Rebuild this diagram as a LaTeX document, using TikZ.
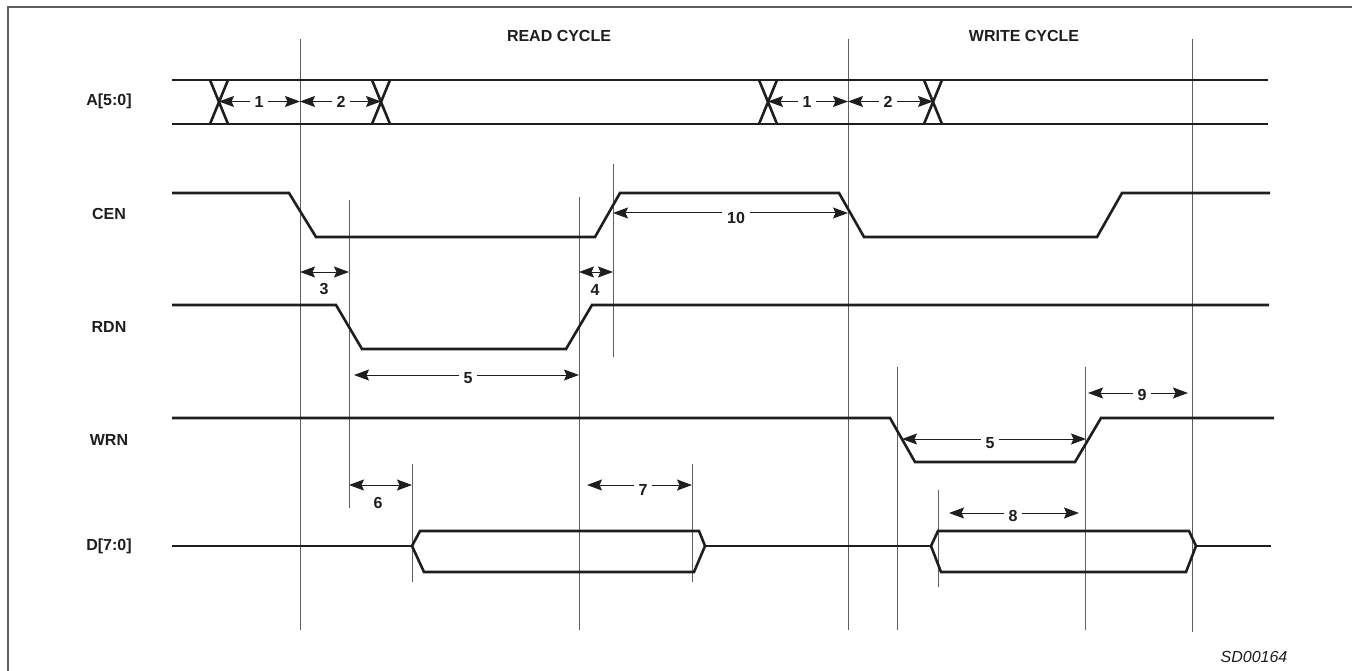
\documentclass[tikz,border=0pt]{standalone}
\usepackage{fontspec}
\setmainfont{Liberation Sans}
\usetikzlibrary{arrows.meta}
\definecolor{ink}{RGB}{30,30,30}
\definecolor{rule}{RGB}{95,95,95}
\newcommand{\lab}{\fontsize{16}{18}\selectfont\bfseries}

\begin{document}
\begin{tikzpicture}[x=1pt,y=-1pt,
    sig/.style={draw=ink, line width=2.6pt},
    ref/.style={draw=rule, line width=0.9pt},
    dim/.style={draw=ink, line width=1pt, {Stealth[length=15pt,width=11pt,inset=2.5pt]}-{Stealth[length=15pt,width=11pt,inset=2.5pt]}},
    parnum/.style={font=\lab, text=ink, fill=white, inner xsep=5pt, inner ysep=1pt},
    signame/.style={font=\lab, text=ink}]
    \useasboundingbox (0,0) rectangle (1352,671);
    % frame
    \draw[rule, line width=1.2pt] (8,671) -- (8,7) -- (1352,7);

    % headings and signal names
    \node[signame] (rd) at (559,36) {READ CYCLE};
    \node[signame] (wr) at (1024,36) {WRITE CYCLE};
    \node[signame] (a) at (109,101) {A[5:0]};
    \node[signame] (cen) at (109,214) {CEN};
    \node[signame] (rdn) at (109,327) {RDN};
    \node[signame] (wrn) at (109,440) {WRN};
    \node[signame] (d) at (109,546) {D[7:0]};
    \node[font=\fontsize{16}{18}\selectfont\itshape, text=ink] (sd) at (1254,657) {SD00164};

    % reference lines
    \draw[ref] (300,39) -- (300,630);
    \draw[ref] (848,39) -- (848,630);
    \draw[ref] (1192,39) -- (1192,632);
    \draw[ref] (613,164) -- (613,357);
    \draw[ref] (349,200) -- (349,508);
    \draw[ref] (579,197) -- (579,630);
    \draw[ref] (897,367) -- (897,630);
    \draw[ref] (1085,367) -- (1085,630);
    \draw[ref] (412,464) -- (412,582);
    \draw[ref] (692,464) -- (692,582);
    \draw[ref] (938,490) -- (938,587);

    % A[5:0]
    \draw[sig] (172,80) -- (1268,80);
    \draw[sig] (172,124) -- (1268,124);
    \foreach \c in {219,381,768,933}
        \draw[sig] (\c-9,80) -- (\c+9,124) (\c+9,80) -- (\c-9,124);

    % CEN, RDN, WRN
    \draw[sig] (172,193) -- (289,193) -- (316,237) -- (595,237) -- (620,193) -- (839,193)
        -- (864,237) -- (1097,237) -- (1122,193) -- (1270,193);
    \draw[sig] (172,305) -- (336,305) -- (362,349) -- (566,349) -- (592,305) -- (1269,305);
    \draw[sig] (172,418) -- (890,418) -- (915,462) -- (1075,462) -- (1101,418) -- (1274,418);

    % D[7:0]
    \draw[sig] (172,546) -- (412,546);
    \draw[sig] (412,546) -- (420,531) -- (699,531) -- (705,546) -- (694,572) -- (424,572) -- cycle;
    \draw[sig] (705,546) -- (931,546);
    \draw[sig] (931,546) -- (938,531) -- (1189,531) -- (1196,546) -- (1186,572) -- (941,572) -- cycle;
    \draw[sig] (1196,546) -- (1271,546);

    % timing parameters
    \draw[dim] (219,101.5) -- (300,101.5);
    \node[parnum] (t1) at (259,102) {1};
    \draw[dim] (300,101.5) -- (381,101.5);
    \node[parnum] (t2) at (341,102) {2};
    \draw[dim] (768,101.5) -- (848,101.5);
    \node[parnum] (t1w) at (807,102) {1};
    \draw[dim] (848,101.5) -- (933,101.5);
    \node[parnum] (t2w) at (888,102) {2};
    \draw[dim] (613,213) -- (848,213);
    \node[parnum] (t10) at (736,218) {10};
    \draw[dim] (300,272) -- (349,272);
    \node[signame] (t3) at (324,289) {3};
    \draw[dim] (579,272) -- (613,272);
    \node[signame] (t4) at (595,290) {4};
    \draw[dim] (354,375) -- (579,375);
    \node[parnum] (t5) at (468,378) {5};
    \draw[dim] (349,485) -- (412,485);
    \node[signame] (t6) at (378,503) {6};
    \draw[dim] (587,485) -- (692,485);
    \node[parnum] (t7) at (643,490) {7};
    \draw[dim] (1088,393) -- (1188,393);
    \node[parnum] (t9) at (1142,395) {9};
    \draw[dim] (902,439) -- (1086,439);
    \node[parnum] (t5w) at (990,443) {5};
    \draw[dim] (949,513) -- (1079,513);
    \node[parnum] (t8) at (1013,516) {8};
\end{tikzpicture}
\end{document}
